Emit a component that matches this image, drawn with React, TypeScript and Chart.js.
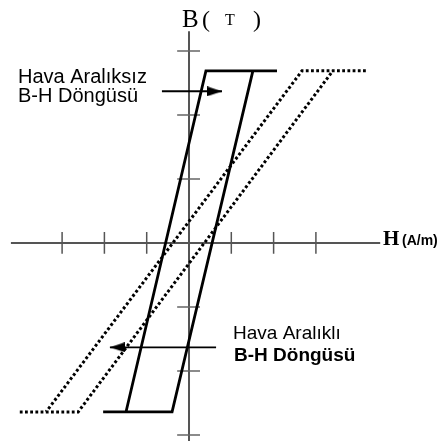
import React, { useEffect, useRef } from "react";
import { Chart, registerables } from "chart.js";

Chart.register(...registerables);

// ---- Data (H in tick units, B in tick units) ----
const hTicks = [-3, -2, -1, 1, 2, 3];
const bTicks = [-3, -2, -1, 1, 2, 3];
const hAxisExtent = [-4.21, 4.52];
const bAxisExtent = [-3.2, 3.31];

// B-H loop without air gap (solid)
const solidLoopH = [2.08, 0.4, -1.49, null, -2.03, -0.4, 1.51];
const solidLoopB = [2.69, 2.69, -2.64, null, -2.64, -2.64, 2.69];

// B-H loop with air gap (dashed)
const gapLoopH = [4.18, 2.67, -3.38, null, -4.0, -2.62, 3.4];
const gapLoopB = [2.69, 2.69, -2.64, null, -2.64, -2.64, 2.69];

// Annotation arrows
const arrowNoGapH = [-0.64, 0.78];
const arrowNoGapB = [2.37, 2.37];
const arrowGapH = [0.64, -1.87];
const arrowGapB = [-1.63, -1.63];

// Visible value window
const hRange = [-4.468, 6.028];
const bRange = [-3.094, 3.797];

type Pt = { x: number | null; y: number | null };

const toPoints = (xs: (number | null)[], ys: (number | null)[]): Pt[] =>
  xs.map((x, i) => ({ x: x === null ? null : x, y: ys[i] }));

function makeArrowHead(dir: "right" | "left"): HTMLCanvasElement {
  const L = 15;
  const H = 10;
  const c = document.createElement("canvas");
  c.width = 2 * L;
  c.height = H;
  const g = c.getContext("2d")!;
  g.fillStyle = "#000";
  g.beginPath();
  if (dir === "right") {
    g.moveTo(0, 0);
    g.lineTo(L, H / 2);
    g.lineTo(0, H);
  } else {
    g.moveTo(2 * L, 0);
    g.lineTo(L, H / 2);
    g.lineTo(2 * L, H);
  }
  g.closePath();
  g.fill();
  return c;
}

const textPlugin = {
  id: "bhText",
  afterDraw(chart: any) {
    const ctx: CanvasRenderingContext2D = chart.ctx;
    ctx.save();
    ctx.fillStyle = "#000";
    ctx.textBaseline = "alphabetic";
    ctx.textAlign = "left";

    // B( T ) axis title
    ctx.font = '25px "Liberation Serif", serif';
    ctx.fillText("B", 182, 27);
    ctx.font = '24px "Liberation Serif", serif';
    ctx.fillText("(", 202, 27);
    ctx.font = '16px "Liberation Serif", serif';
    ctx.fillText("T", 225, 25);
    ctx.font = '24px "Liberation Serif", serif';
    ctx.fillText(")", 253, 27);

    // H (A/m) axis title
    ctx.font = 'bold 21px "Liberation Serif", serif';
    ctx.fillText("H", 383, 245);
    ctx.font = 'bold 14px "Liberation Sans", Arial, sans-serif';
    ctx.fillText("(A/m)", 402, 245);

    // Labels
    ctx.font = '20px "Liberation Sans", Arial, sans-serif';
    ctx.fillText("Hava Aralıksız", 18, 83);
    ctx.fillText("B-H Döngüsü", 18, 102);

    ctx.font = '19px "Liberation Sans", Arial, sans-serif';
    ctx.fillText("Hava Aralıklı", 233, 339);
    ctx.font = 'bold 19px "Liberation Sans", Arial, sans-serif';
    ctx.fillText("B-H Döngüsü", 234, 361);
    ctx.restore();
  },
};

export default function App() {
  const ref = useRef<HTMLCanvasElement | null>(null);

  useEffect(() => {
    if (!ref.current) return;
    document.body.style.margin = "0";

    const tickHalfH = 0.17;
    const tickLeft = -0.28;
    const tickRight = 0.26;

    const hTickPts: Pt[] = [];
    hTicks.forEach((t) => {
      hTickPts.push({ x: t, y: tickHalfH }, { x: t, y: -tickHalfH }, { x: t, y: null });
    });
    const bTickPts: Pt[] = [];
    bTicks.forEach((t) => {
      bTickPts.push({ x: tickLeft, y: t }, { x: tickRight, y: t }, { x: 0, y: null });
    });

    const rightHead = makeArrowHead("right");
    const leftHead = makeArrowHead("left");

    const chart = new Chart(ref.current, {
      type: "scatter",
      data: {
        datasets: [
          {
            label: "H axis",
            data: [
              { x: hAxisExtent[0], y: 0 },
              { x: hAxisExtent[1], y: 0 },
            ],
            showLine: true,
            borderColor: "#555",
            borderWidth: 2,
            pointRadius: 0,
            order: 6,
          },
          {
            label: "B axis",
            data: [
              { x: 0, y: bAxisExtent[0] },
              { x: 0, y: bAxisExtent[1] },
            ],
            showLine: true,
            borderColor: "#555",
            borderWidth: 2,
            pointRadius: 0,
            order: 6,
          },
          {
            label: "H ticks",
            data: hTickPts as any,
            showLine: true,
            spanGaps: false,
            borderColor: "#555",
            borderWidth: 1.5,
            pointRadius: 0,
            order: 5,
          },
          {
            label: "B ticks",
            data: bTickPts as any,
            showLine: true,
            spanGaps: false,
            borderColor: "#666",
            borderWidth: 1.3,
            pointRadius: 0,
            order: 5,
          },
          {
            label: "Hava Aralıklı",
            data: toPoints(gapLoopH, gapLoopB) as any,
            showLine: true,
            spanGaps: false,
            borderColor: "#000",
            borderWidth: 3,
            borderDash: [2.8, 2.4],
            pointRadius: 0,
            order: 2,
          },
          {
            label: "Hava Aralıksız",
            data: toPoints(solidLoopH, solidLoopB) as any,
            showLine: true,
            spanGaps: false,
            borderColor: "#000",
            borderWidth: 2.8,
            pointRadius: 0,
            order: 1,
          },
          {
            label: "arrow1",
            data: toPoints(arrowNoGapH, arrowNoGapB) as any,
            showLine: true,
            borderColor: "#000",
            borderWidth: 2,
            pointRadius: [0, 5],
            pointStyle: ["circle", rightHead] as any,
            order: 0,
          },
          {
            label: "arrow2",
            data: toPoints(arrowGapH, arrowGapB) as any,
            showLine: true,
            borderColor: "#000",
            borderWidth: 1.8,
            pointRadius: [0, 5],
            pointStyle: ["circle", leftHead] as any,
            order: 0,
          },
        ],
      },
      options: {
        animation: false,
        responsive: false,
        events: [],
        layout: { padding: 0, autoPadding: false },
        plugins: {
          legend: { display: false },
          tooltip: { enabled: false },
          title: { display: false },
        },
        scales: {
          x: { type: "linear", min: hRange[0], max: hRange[1], display: false },
          y: { type: "linear", min: bRange[0], max: bRange[1], display: false },
        },
      },
      plugins: [textPlugin],
    });

    return () => chart.destroy();
  }, []);

  return (
    <div style={{ position: "absolute", left: 0, top: 0, width: 444, height: 441, background: "#fff" }}>
      <canvas ref={ref} width={444} height={441} style={{ display: "block" }} />
    </div>
  );
}
